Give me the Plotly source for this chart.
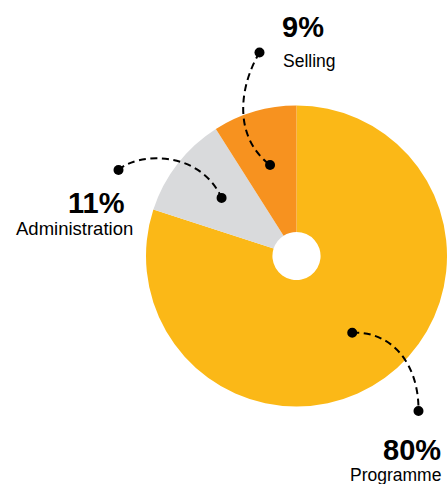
import math
import plotly.graph_objects as go

# Spending breakdown
categories = ["Programme", "Administration", "Selling"]
shares = [80, 11, 9]
pct_labels = ["80%", "11%", "9%"]
colors = ["#FBB817", "#D9DADC", "#F7921F"]

# Canvas and pie geometry (pixels)
W, H = 447, 484
CX, CY, R = 296.5, 256.0, 150.5
HOLE = 0.16
DOT_R = 0.63      # callout dot distance from centre, as a fraction of the radius
DOT_SIZE = 5.0    # dot radius in pixels

# Callout styling per category: outer dot, bezier control points, label placement
callouts = {
    "Programme": dict(outer=(418.5, 411), c1=(392, 331), c2=(419, 364),
                      pct=(443, 449.5, "right", 29), name=(443, 475, "right", 17.5)),
    "Administration": dict(outer=(118.5, 170), c1=(138, 152), c2=(200, 150),
                           pct=(127, 203, "right", 29), name=(134.5, 228.5, "right", 18.5)),
    "Selling": dict(outer=(259.5, 52.5), c1=(240, 85), c2=(232, 136),
                    pct=(279.5, 26.5, "left", 29), name=(280.5, 60.5, "left", 17.5)),
}

FONT = "Liberation Sans, Arial, Helvetica, sans-serif"

fig = go.Figure()

fig.add_trace(go.Pie(
    labels=categories,
    values=shares,
    sort=False,
    direction="clockwise",
    rotation=0,
    hole=HOLE,
    marker=dict(colors=colors, line=dict(width=0)),
    textinfo="none",
    hoverinfo="label+percent",
    showlegend=False,
    domain=dict(x=[(CX - R) / W, (CX + R) / W],
                y=[1 - (CY + R) / H, 1 - (CY - R) / H]),
))

# Inner dots sit at each slice's mid-angle
total = sum(shares)
inner = {}
cum = 0.0
for cat, v in zip(categories, shares):
    ang = math.radians((cum + v / 2) / total * 360)
    inner[cat] = (CX + DOT_R * R * math.sin(ang), CY - DOT_R * R * math.cos(ang))
    cum += v


def dot(x, y):
    return dict(type="circle", xref="x", yref="y", layer="above",
                x0=x - DOT_SIZE, x1=x + DOT_SIZE, y0=y - DOT_SIZE, y1=y + DOT_SIZE,
                fillcolor="black", line=dict(width=0))


shapes = []
annotations = []
for cat, pct in zip(categories, pct_labels):
    c = callouts[cat]
    x0, y0 = inner[cat]
    x3, y3 = c["outer"]
    if cat == "Programme":
        (sx, sy), (ex, ey) = (x0, y0), (x3, y3)
    else:
        (sx, sy), (ex, ey) = (x3, y3), (x0, y0)
    c1, c2 = c["c1"], c["c2"]
    shapes.append(dict(
        type="path", xref="x", yref="y", layer="above",
        path=f"M {sx},{sy} C {c1[0]},{c1[1]} {c2[0]},{c2[1]} {ex},{ey}",
        line=dict(color="black", width=2, dash="7px,4.5px"),
    ))
    shapes.append(dot(x0, y0))
    shapes.append(dot(x3, y3))

    px, py, pa, ps = c["pct"]
    annotations.append(dict(
        x=px, y=py, xref="x", yref="y", text=f"<b>{pct}</b>", showarrow=False,
        xanchor=pa, yanchor="middle",
        font=dict(family=FONT, size=ps, color="black"),
    ))
    nx, ny, na, ns = c["name"]
    annotations.append(dict(
        x=nx, y=ny, xref="x", yref="y", text=cat, showarrow=False,
        xanchor=na, yanchor="middle",
        font=dict(family=FONT, size=ns, color="black"),
    ))

fig.update_layout(
    width=W, height=H,
    margin=dict(l=0, r=0, t=0, b=0),
    paper_bgcolor="white", plot_bgcolor="rgba(0,0,0,0)",
    xaxis=dict(range=[0, W], visible=False, fixedrange=True),
    yaxis=dict(range=[H, 0], visible=False, fixedrange=True),
    shapes=shapes,
    annotations=annotations,
)

fig.write_html("out.html")
